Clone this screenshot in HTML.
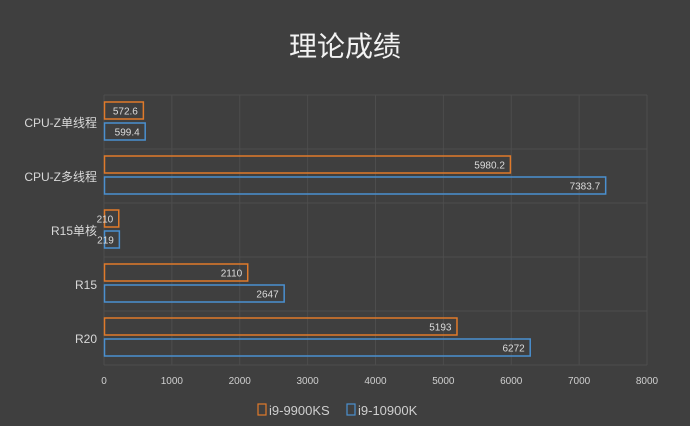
<!DOCTYPE html>
<html><head><meta charset="utf-8"><style>
html,body{margin:0;padding:0;background:#3f3f3f;}
svg{display:block;font-family:"Liberation Sans","Noto Sans CJK SC",sans-serif;}
</style></head><body>
<svg width="690" height="426">
<rect width="690" height="426" fill="#3f3f3f"/>
<text x="345" y="56" text-anchor="middle" fill="#f2f2f2" font-size="28">理论成绩</text>
<g id="grid"></g><g id="bars"></g><g id="labels"></g>
<g>
<rect x="258" y="404" width="8" height="11" fill="none" stroke="#e07a2a" stroke-width="1.2"/>
<text x="269" y="415" fill="#cfcfcf" font-size="13">i9-9900KS</text>
<rect x="347" y="404" width="8" height="11" fill="none" stroke="#4a90d0" stroke-width="1.2"/>
<text x="358" y="415" fill="#cfcfcf" font-size="13">i9-10900K</text>
</g>
</svg>
<script>
const categories=["CPU-Z单线程","CPU-Z多线程","R15单核","R15","R20"];
const ks=[572.6,5980.2,210,2110,5193];
const k10=[599.4,7383.7,219,2647,6272];
const ticks=[0,1000,2000,3000,4000,5000,6000,7000,8000];
const NS="http://www.w3.org/2000/svg";
const x0=104,x1=647,plotTop=95,band=54,maxV=8000;
const X=v=>x0+(x1-x0)*v/maxV;
function mk(t,a,p){const e=document.createElementNS(NS,t);for(const k in a)e.setAttribute(k,a[k]);p.appendChild(e);return e;}
const g=document.getElementById('grid'),b=document.getElementById('bars'),l=document.getElementById('labels');
ticks.forEach(t=>{
 const ln=mk('line',{x1:X(t),x2:X(t),y1:plotTop,y2:plotTop+band*5,stroke:'#4d4d4d','stroke-width':1},g);
 
 
 const tx=mk('text',{x:X(t),y:384,'text-anchor':'middle',fill:'#cfcfcf','font-size':10},l);
 tx.textContent=t;
 
 
});
for(let i=0;i<=5;i++){
 const ln=mk('line',{x1:x0,x2:x1,y1:plotTop+band*i,y2:plotTop+band*i,stroke:'#4d4d4d','stroke-width':1},g);
 
 
}
categories.forEach((c,i)=>{
 const cy=plotTop+band*i+27;
 const t=mk('text',{x:97,y:cy+5,'text-anchor':'end',fill:'#d8d8d8','font-size':12},l);
 t.textContent=c;
 
 
 [[ks[i],'#e07a2a',cy-20],[k10[i],'#4a90d0',cy+1]].forEach(([v,col,y])=>{
  const r=mk('rect',{x:x0+0.5,y:y,width:X(v)-x0,height:17,fill:'none',stroke:col,'stroke-width':1.5},b);
  
  
  const vt=mk('text',{x:X(v)-5,y:y+12.5,'text-anchor':'end',fill:'#dcdcdc','font-size':10},l);
  vt.textContent=v;
  
  
 });
});
</script>
</body></html>
